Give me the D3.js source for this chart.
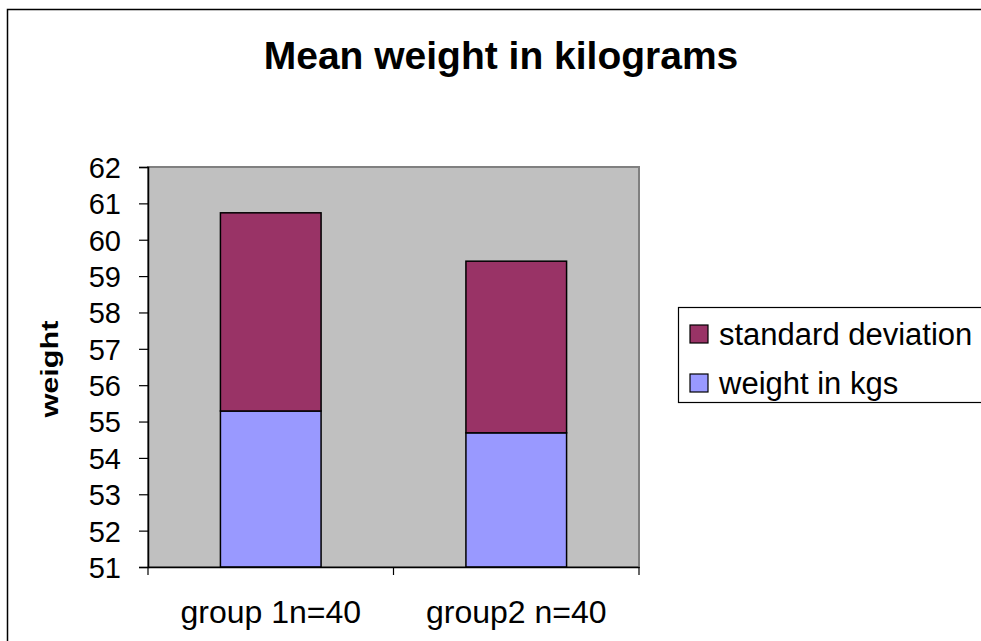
<!DOCTYPE html>
<html><head><meta charset="utf-8">
<script src="https://cdn.jsdelivr.net/npm/d3@7"></script>
<style>body{margin:0;background:#fff;} svg{display:block;font-family:"Liberation Sans",Arial,sans-serif;}</style>
</head><body>
<script>
const categories = ["group 1n=40", "group2 n=40"];
const weightKgs = [55.29, 54.69];
const stdDev = [5.45, 4.72];
const seriesNames = ["standard deviation", "weight in kgs"];
const yTicks = [51,52,53,54,55,56,57,58,59,60,61,62];

const W = 981, H = 641;
const svg = d3.select("body").append("svg").attr("width", W).attr("height", H);
svg.append("rect").attr("width", W).attr("height", H).attr("fill", "#fff");
// outer chart border
svg.append("path").attr("d", `M7.5,${H+5} V9.5 H${W+5}`).attr("fill","none").attr("stroke","#000").attr("stroke-width",1.5);

const plot = {l:148, r:639, t:167, b:567};
const x = d3.scaleBand().domain(categories).range([plot.l, plot.r]).padding(0);
const y = d3.scaleLinear().domain([51, 62]).range([plot.b, plot.t]);
const barW = x.bandwidth() * 0.41;

svg.append("rect").attr("x", plot.l).attr("y", plot.t).attr("width", plot.r-plot.l).attr("height", plot.b-plot.t)
  .attr("fill", "#C0C0C0").attr("stroke", "#808080").attr("stroke-width", 2);

const data = categories.map((c,i)=>({c, w: weightKgs[i], s: stdDev[i]}));
const g = svg.append("g");
data.forEach(d=>{
  const bx = x(d.c) + (x.bandwidth()-barW)/2;
  g.append("rect").attr("x", bx).attr("y", y(d.w)).attr("width", barW).attr("height", y(51)-y(d.w))
    .attr("fill", "#9999FF").attr("stroke", "#000").attr("stroke-width", 1.5);
  g.append("rect").attr("x", bx).attr("y", y(d.w+d.s)).attr("width", barW).attr("height", y(d.w)-y(d.w+d.s))
    .attr("fill", "#993366").attr("stroke", "#000").attr("stroke-width", 1.5);
});

// y axis
const ya = svg.append("g").attr("transform", `translate(${plot.l},0)`)
  .call(d3.axisLeft(y).tickValues(yTicks).tickFormat(d3.format("d")).tickSize(9).tickPadding(18));
ya.select(".domain").attr("stroke","#000").attr("stroke-width",1.5);
ya.selectAll(".tick line").attr("stroke","#000").attr("stroke-width",1.2);
ya.selectAll(".tick text").attr("font-size", 29).attr("font-family","Liberation Sans, Arial, sans-serif").attr("fill","#000").attr("dy","0.36em");

// x axis
const xa = svg.append("g").attr("transform", `translate(0,${plot.b})`)
  .call(d3.axisBottom(x).tickSize(0).tickPadding(33));
xa.select(".domain").attr("stroke","#000").attr("stroke-width",1.5);
xa.selectAll(".tick text").attr("font-size", 32).attr("font-family","Liberation Sans, Arial, sans-serif").attr("fill","#000");
const bounds = [plot.l, ...categories.map(c=>x(c)+x.bandwidth())];
xa.selectAll("line.sep").data(bounds).enter().append("line").attr("class","sep")
  .attr("x1", d=>d).attr("x2", d=>d).attr("y1",0).attr("y2",8).attr("stroke","#000").attr("stroke-width",1.2);

// title
svg.append("text").attr("x", 501).attr("y", 69).attr("text-anchor","middle")
  .attr("font-size", 39).attr("font-weight","bold").text("Mean weight in kilograms");
// y label
svg.append("text").attr("transform","translate(58,369) rotate(-90)").attr("text-anchor","middle")
  .attr("font-size", 23).attr("font-weight","bold")
  .attr("textLength", 97).attr("lengthAdjust","spacingAndGlyphs").text("weight");

// legend
const lg = svg.append("g");
lg.append("rect").attr("x", 678.5).attr("y", 307.5).attr("width", 320).attr("height", 95)
  .attr("fill","#fff").attr("stroke","#000").attr("stroke-width",1.2);
const legColors = ["#993366", "#9999FF"];
seriesNames.forEach((n,i)=>{
  const cy = 334 + i*49;
  lg.append("rect").attr("x", 690).attr("y", cy-9).attr("width", 18).attr("height", 18)
    .attr("fill", legColors[i]).attr("stroke","#000").attr("stroke-width",1.2);
  lg.append("text").attr("x", 719).attr("y", cy).attr("dy","0.36em").attr("font-size", 31).text(n);
});
</script>
</body></html>
